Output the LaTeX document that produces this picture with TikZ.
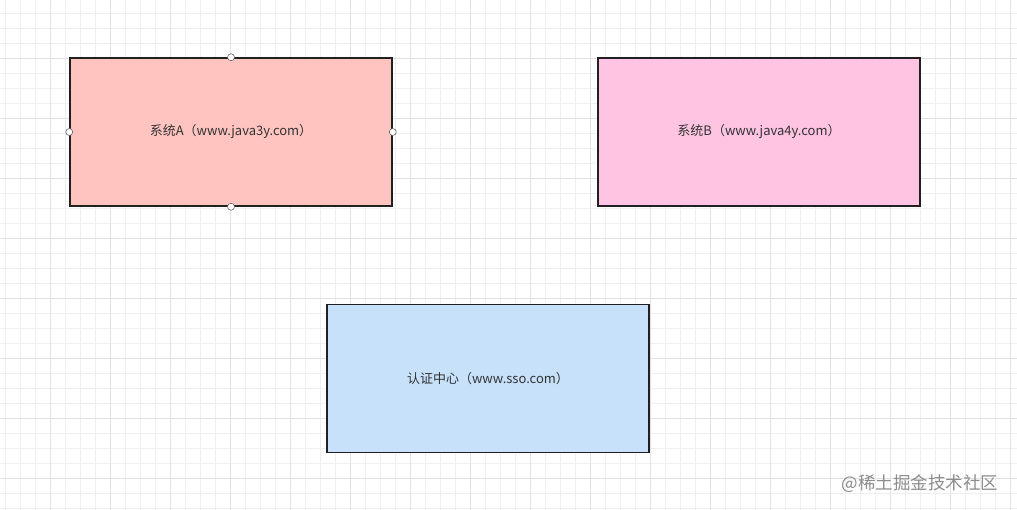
\documentclass[tikz,border=0pt]{standalone}
\usepackage{fontspec}
\setmainfont{Noto Sans CJK SC}
\definecolor{gridminor}{HTML}{EFEFEF}
\definecolor{gridmajor}{HTML}{E2E2E2}
\definecolor{fillA}{HTML}{FFC4C0}
\definecolor{fillB}{HTML}{FFC4E2}
\definecolor{fillC}{HTML}{C7E1FA}
\definecolor{edge}{HTML}{231F20}
\definecolor{txt}{HTML}{333333}
\begin{document}
\begin{tikzpicture}[x=1pt,y=-1pt,
  sysbox/.style={draw=edge,line width=1.5pt,minimum width=322pt,minimum height=148pt,inner sep=0pt,
    font=\fontsize{13}{15}\selectfont,text=txt},
  handle/.style={circle,draw=edge!70,fill=white,line width=0.6pt,minimum size=7pt,inner sep=0pt}]
\useasboundingbox (0,0) rectangle (1017,510);
\fill[white] (0,0) rectangle (1017,510);
\foreach \x in {5,20,...,1017} \draw[gridminor,line width=0.8pt] (\x,0) -- (\x,510);
\foreach \y in {13,28,...,510} \draw[gridminor,line width=0.8pt] (0,\y) -- (1017,\y);
\foreach \x in {50,110,...,1017} \draw[gridmajor,line width=0.8pt] (\x,0) -- (\x,510);
\foreach \y in {58,118,...,510} \draw[gridmajor,line width=0.8pt] (0,\y) -- (1017,\y);
\node[sysbox,fill=fillA] (a) at (231,132) {系统A（www.java3y.com）};
\node[sysbox,fill=fillB] (b) at (759,132) {系统B（www.java4y.com）};
\node[sysbox,fill=fillC] (c) at (488,378.5) {认证中心（www.sso.com）};
\node[handle] (h1) at (a.north) {};
\node[handle] (h2) at (a.south) {};
\node[handle] (h3) at (a.west) {};
\node[handle] (h4) at (a.east) {};
\node[anchor=east,text=black!45,font=\fontsize{17.5}{19}\selectfont] (wm) at (1002,484) {@稀土掘金技术社区};
\end{tikzpicture}
\end{document}
